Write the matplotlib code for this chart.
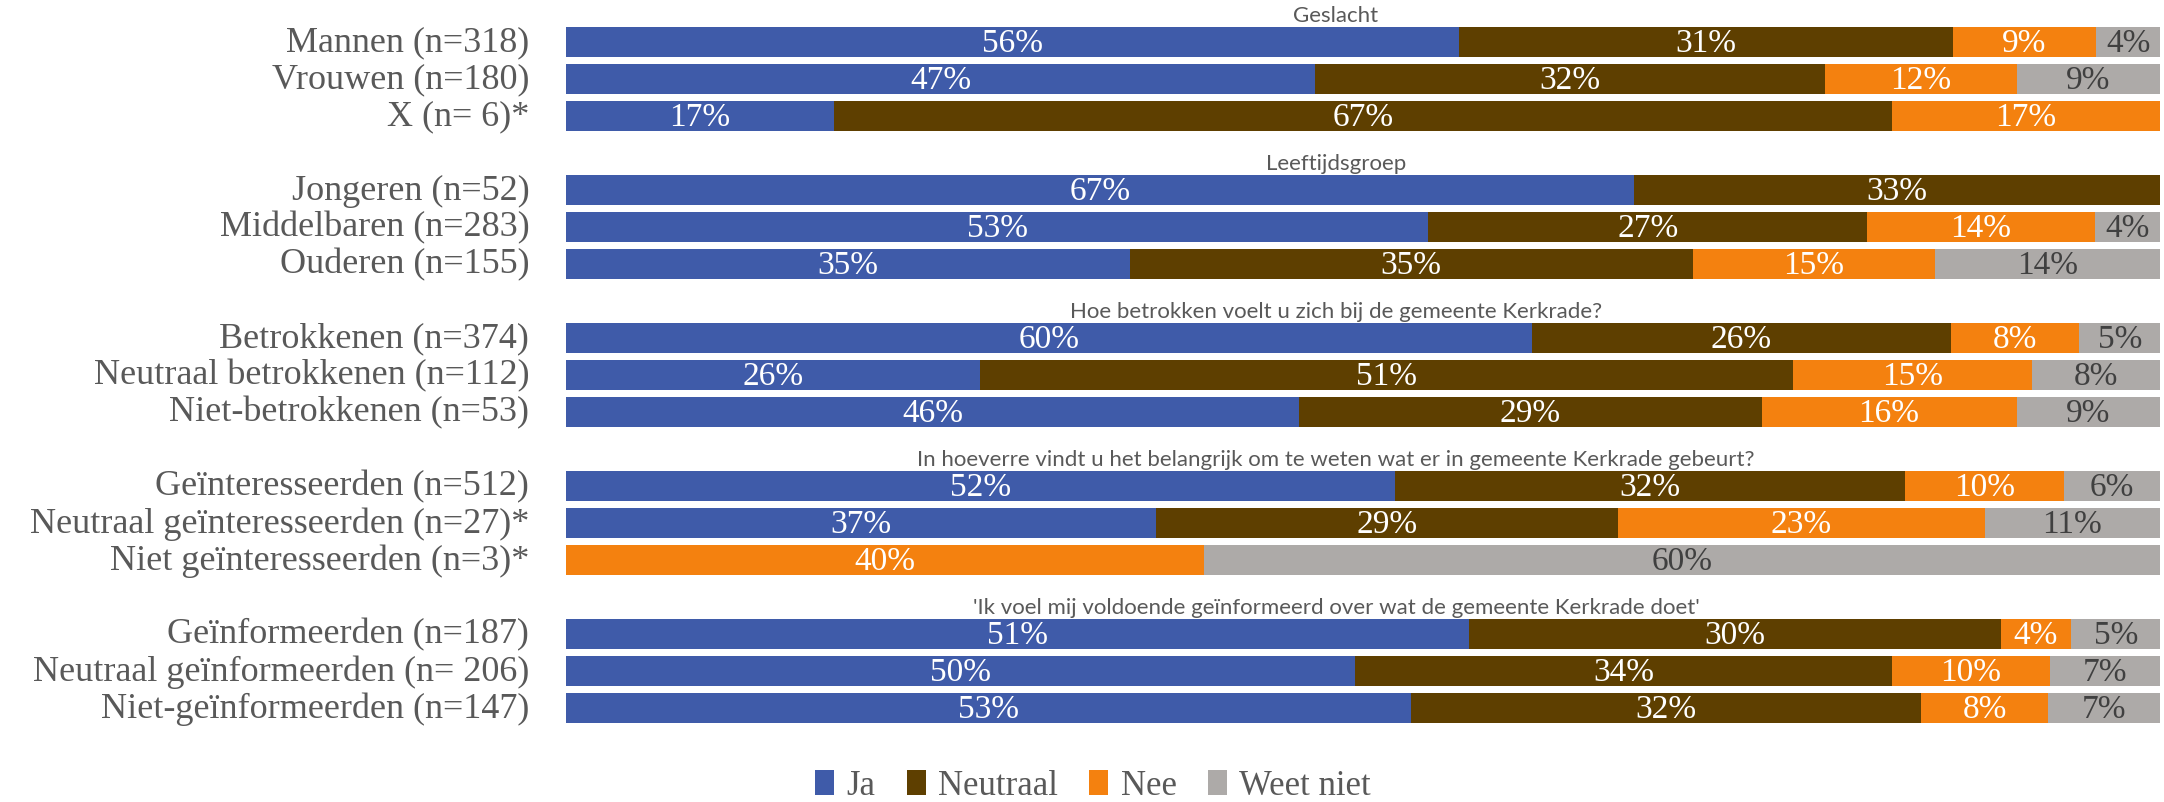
import matplotlib.pyplot as plt
import numpy as np
from matplotlib.patches import Patch

# categorieen per blok (van boven naar beneden)
titels = [
    'Geslacht',
    'Leeftijdsgroep',
    'Hoe betrokken voelt u zich bij de gemeente Kerkrade?',
    'In hoeverre vindt u het belangrijk om te weten wat er in gemeente Kerkrade gebeurt?',
    "'Ik voel mij voldoende geïnformeerd over wat de gemeente Kerkrade doet'",
]
categorieen = [
    ['Mannen (n=318)', 'Vrouwen (n=180)', 'X (n= 6)*'],
    ['Jongeren (n=52)', 'Middelbaren (n=283)', 'Ouderen (n=155)'],
    ['Betrokkenen (n=374)', 'Neutraal betrokkenen (n=112)', 'Niet-betrokkenen (n=53)'],
    ['Geïnteresseerden (n=512)', 'Neutraal geïnteresseerden (n=27)*', 'Niet geïnteresseerden (n=3)*'],
    ['Geïnformeerden (n=187)', 'Neutraal geïnformeerden (n= 206)', 'Niet-geïnformeerden (n=147)'],
]

ja = [56, 47, 17, 67, 53, 35, 60, 26, 46, 52, 37, 0, 51, 50, 53]
neutraal = [31, 32, 67, 33, 27, 35, 26, 51, 29, 32, 29, 0, 30, 34, 32]
nee = [9, 12, 17, 0, 14, 15, 8, 15, 16, 10, 23, 40, 4, 10, 8]
weet_niet = [4, 9, 0, 0, 4, 14, 5, 8, 9, 6, 11, 60, 5, 7, 7]

reeksen = ['Ja', 'Neutraal', 'Nee', 'Weet niet']
kleuren = ['#3F5BA9', '#5E3F00', '#F4810F', '#ADAAA8']
tekstkleuren = ['white', 'white', 'white', '#404040']

plt.rcParams['font.family'] = ['Liberation Serif', 'DejaVu Serif']

W, H = 2164, 803
fig = plt.figure(figsize=(W / 100, H / 100), dpi=100)
ax = fig.add_axes([566 / W, 1 - 727.5 / H, 1594 / W, 703 / H])

waarden = np.array([ja, neutraal, nee, weet_niet], dtype=float)
totaal = waarden.sum(axis=0)
aandeel = waarden / totaal * 100  # 100% gestapeld, zoals in Excel

# y-posities: 3 balken per blok + 1 lege regel
ypos = []
for b in range(len(categorieen)):
    for j in range(len(categorieen[b])):
        ypos.append(b * 4 + j)
ypos = np.array(ypos)

links = np.zeros(len(ja))
for i in range(len(reeksen)):
    ax.barh(ypos, aandeel[i], left=links, height=0.81, color=kleuren[i], label=reeksen[i])
    for k in range(len(ja)):
        if waarden[i, k] > 0:
            ax.text(links[k] + aandeel[i, k] / 2, ypos[k] + 0.03, f'{int(waarden[i, k])}%',
                    ha='center', va='center', color=tekstkleuren[i], fontsize=24)
    links += aandeel[i]

labels = [c for blok in categorieen for c in blok]
for y, lab in zip(ypos, labels):
    ax.text(-2.3, y, lab, ha='right', va='center', color='#595959', fontsize=26)

for b, t in enumerate(titels):
    ax.text(48.3, b * 4 - 0.73, t, ha='center', va='center', color='#595959',
            fontsize=16, family=['Lato', 'DejaVu Sans'])

ax.set_xlim(0, 100)
ax.set_ylim(18.5, -0.5)
ax.axis('off')

handles = [Patch(facecolor=c, label=r) for c, r in zip(kleuren, reeksen)]
fig.legend(handles=handles, loc='center', bbox_to_anchor=(1093 / W, 1 - 787 / H), ncol=4,
           frameon=False, handlelength=0.55, handleheight=0.75, handletextpad=0.35,
           columnspacing=0.9, prop={'size': 25}, labelcolor='#595959')

fig.savefig('out.png', dpi=100)
